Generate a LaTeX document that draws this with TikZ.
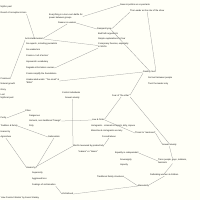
\documentclass[tikz,border=0pt]{standalone}
\usepackage{fontspec}
\setmainfont{Liberation Sans}
\begin{document}
\begin{tikzpicture}[x=1pt,y=-1pt,
  t/.style={font=\fontsize{2.2}{3.2}\selectfont, inner sep=0pt, anchor=west, align=left, text=black!92},
  ln/.style={draw=black!40, line width=0.25pt}]
\useasboundingbox (0,0) rectangle (200,200);
\fill[white!97!yellow] (0,0) rectangle (200,200);
\clip (0,0) rectangle (200,200);
% top left
\node[t] (myth0) at (0.5,7) {Mythic past};
\node[t] (myth1) at (0.5,13) {Result of corruption \& loss};
\node[t] (zero) at (49,16.5) {Everything is a zero-sum battle for\\power between groups};
\node[t] (reason) at (58,23) {Reason is useless};
\node[t] (news) at (120,5) {News \& politics as a spectacle};
\node[t] (leader) at (130,11) {The Leader as the star of the show};
\node[t] (lying) at (97,29) {Rampant lying};
\node[t] (bad) at (98,34) {Bad faith arguments};
\node[t] (simple) at (98,39) {Simple explanations for fear};
\node[t] (consp) at (98,45.5) {Conspiracy theories, especially\\in NGOs};
% anti-intellectualism
\node[t] (anti) at (25,39) {Anti-intellectualism};
\node[t] (exp) at (26,44) {No experts, including journalists};
\node[t] (acad) at (26,50) {No academics};
\node[t] (cult) at (26,56) {Create a `cult of action'};
\node[t] (vocab) at (26,62) {Impoverish vocabulary};
\node[t] (degr) at (26,68) {Degrade information sources};
\node[t] (simp) at (26,74) {Create simplify the foundations};
\node[t] (uned) at (26,81) {Uneducated words: ``Too smart'' \&\\``Elitist''};
% left edge
\node[t] (l1) at (0.5,79) {Promises};
\node[t] (l2) at (0.5,84) {Natural growth};
\node[t] (l3) at (0.5,90) {Glory};
\node[t] (l4) at (0.5,95) {Lost};
\node[t] (l5) at (0.5,98) {Mythical past};
\node[t] (l6) at (0.5,118) {Purity};
\node[t] (l7) at (0.5,126) {Tradition \& family};
\node[t] (l8) at (0.5,132) {Hierarchy};
\node[t] (l9) at (0.5,137) {Agriculture};
% trust
\node[t] (trust) at (143,72) {Destroy trust};
\node[t] (ntrust) at (148,78) {No trust between people};
\node[t] (tlead) at (148,84) {Trust the leader only};
% middle
\node[t] (ctrl) at (62,93) {Control individuals};
\node[t] (sexa) at (65,98) {Sexual anxiety};
\node[t] (fear) at (112,96) {Fear of ``the other''};
\node[t] (cities) at (25,111) {Cities};
\node[t] (dang) at (29,116) {Dangerous};
\node[t] (immor) at (29,121) {Immoral, non-traditional ``foreign''};
\node[t] (dirty) at (29,126) {Dirty};
\node[t] (law) at (92,120) {Law \& Order};
\node[t] (immig) at (91,126) {Immigrants - criminals \& rapists, dirty, impure};
\node[t] (minor) at (91,131) {Minorities \& immigrants are lazy};
\node[t] (forced) at (102,137) {Forced labour};
\node[t] (threat) at (135,133) {Threat to ``manhood''};
\node[t] (sex) at (162,145) {Sexual anxiety};
\node[t] (nation) at (48,137) {Nationalism};
\node[t] (worth) at (73,146) {Worth measured by productivity};
\node[t] (makers) at (78,152) {``makers'' vs ``takers''};
\node[t] (equal) at (115,153) {Equality is codependent};
\node[t] (sover) at (120,160) {Sovereignty};
\node[t] (impur) at (120,165) {Impurity};
\node[t] (trans) at (158,161) {Trans people, gays, lesbians,\\feminists};
\node[t] (defend) at (150,175) {Defending women \& children};
\node[t] (masc) at (138,186) {Masculinity};
\node[t] (trad) at (97,177) {Traditional family structures};
\node[t] (hier) at (26,168) {Hierarchy};
\node[t] (sup) at (32,173) {Superiority};
\node[t] (aggr) at (32,179) {Aggrieved loss};
\node[t] (feel) at (32,185) {Feelings of victimisation};
\node[t] (vict) at (62,194) {Victimhood};
\node[t] (credit) at (0.5,198) {`How Fascism Works' by Jason Stanley};
% connectors
\draw[ln] (myth1.south east) -- (anti.north);
\draw[ln] (anti.north east) -- (reason.south);
\draw[ln] (anti.east) -- (consp.west);
\draw[ln] (zero.east) -- (news.west);
\draw[ln] (reason.east) -- (lying.west);
\draw[ln] (lying.east) -- (leader.south west);
\draw[ln] (lying.south east) -- (trust.north);
\draw[ln] (leader.south) -- (trust.north east);
\draw[ln] (fear.north east) -- (trust.south west);
\draw[ln] (anti.south west) -- (l1.east);
\draw[ln] (degr.east) -- (consp.south west);
\draw[ln] (uned.east) -- (trust.west);
\draw[ln] (fear.south) -- (law.north east);
\draw[ln] (fear.south east) -- (sex.north);
\draw[ln] (sexa.south) -- (worth.north west);
\draw[ln] (cities.west) -- (l6.east);
\draw[ln] (immor.east) -- (law.west);
\draw[ln] (l7.east) -- (nation.west);
\draw[ln] (law.east) -- (threat.west);
\draw[ln] (threat.east) -- (sex.north west);
\draw[ln] (forced.south) -- (worth.north east);
\draw[ln] (hier.north west) -- (l9.south);
\draw[ln] (hier.east) -- (nation.south);
\draw[ln] (hier.north east) -- (worth.west);
\draw[ln] (feel.south east) -- (vict.west);
\draw[ln] (sex.south) -- (trans.north);
\draw[ln] (equal.east) -- (trans.west);
\draw[ln] (trans.south) -- (defend.north);
\draw[ln] (defend.south) -- (masc.north east);
\draw[ln] (masc.west) -- (trad.east);
\draw[ln] (vict.east) -- (masc.west);
\end{tikzpicture}
\end{document}
